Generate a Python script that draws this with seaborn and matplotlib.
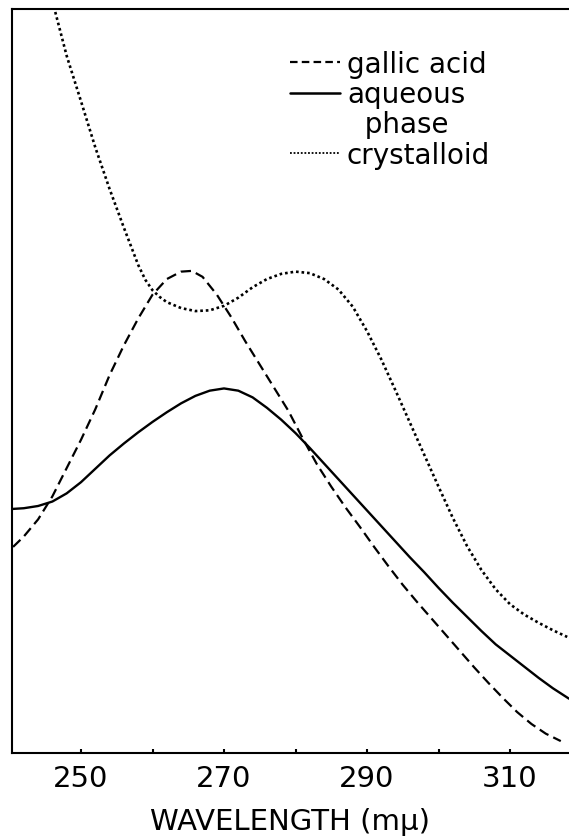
import matplotlib
matplotlib.use("Agg")
import matplotlib.pyplot as plt
import seaborn as sns
from matplotlib.lines import Line2D

# Absorption spectra (relative absorbance, axis 0..1)
gallic_wl = [240.5, 242, 244, 246, 248, 250, 252, 254, 256, 258, 260, 262, 264, 265.5,
             267, 269, 271, 273, 275, 277, 279, 281, 283, 285, 287, 289, 291, 293, 295,
             297, 299, 301, 303, 305, 307, 309, 311, 313, 315, 317.1]
gallic_abs = [0.277, 0.291, 0.314, 0.345, 0.383, 0.421, 0.462, 0.508, 0.548, 0.584,
              0.616, 0.637, 0.647, 0.648, 0.640, 0.616, 0.586, 0.553, 0.522, 0.491,
              0.460, 0.423, 0.388, 0.358, 0.330, 0.304, 0.277, 0.251, 0.226, 0.203,
              0.181, 0.159, 0.137, 0.115, 0.094, 0.074, 0.055, 0.039, 0.026, 0.016]

aqueous_wl = [240.35, 242, 244, 246, 248, 250, 252, 254, 256, 258, 260, 262, 264, 266,
              268, 270, 272, 274, 276, 278, 280, 282, 284, 286, 288, 290, 292, 294, 296,
              298, 300, 302, 304, 306, 308, 310, 312, 314, 316, 318.25]
aqueous_abs = [0.328, 0.329, 0.332, 0.338, 0.349, 0.364, 0.382, 0.400, 0.416, 0.431,
               0.445, 0.458, 0.470, 0.480, 0.487, 0.490, 0.487, 0.478, 0.464, 0.448,
               0.430, 0.410, 0.389, 0.368, 0.347, 0.326, 0.305, 0.284, 0.263, 0.243,
               0.222, 0.202, 0.183, 0.164, 0.146, 0.131, 0.116, 0.101, 0.087, 0.073]

crystal_wl = [246.4, 248, 250, 252, 254, 256, 258, 259, 260, 261, 262, 264, 266, 268,
              270, 272, 274, 276, 278, 280, 282, 284, 286, 288, 290, 292, 294, 296, 298,
              300, 302, 304, 306, 308, 310, 312, 314, 316, 318]
crystal_abs = [0.996, 0.937, 0.876, 0.814, 0.758, 0.706, 0.656, 0.636, 0.622, 0.613,
               0.606, 0.598, 0.594, 0.595, 0.601, 0.612, 0.626, 0.637, 0.644, 0.647,
               0.645, 0.637, 0.623, 0.600, 0.567, 0.529, 0.487, 0.444, 0.401, 0.358,
               0.316, 0.278, 0.246, 0.220, 0.200, 0.186, 0.175, 0.165, 0.156]

xticks = [250, 260, 270, 280, 290, 300, 310]
xtick_labels = ["250", "", "270", "", "290", "", "310"]

sns.set_style("white")
plt.rcParams["font.family"] = ["DejaVu Sans"]
plt.rcParams["text.color"] = "black"
plt.rcParams["xtick.color"] = "black"
plt.rcParams["axes.labelcolor"] = "black"

fig = plt.figure(figsize=(5.69, 8.37), dpi=100)
ax = fig.add_axes([12 / 569, 83 / 837, 557 / 569, 744 / 837])

sns.lineplot(x=gallic_wl, y=gallic_abs, ax=ax, color="black", lw=1.6,
             linestyle=(0, (4.6, 2.4)), sort=False)
sns.lineplot(x=aqueous_wl, y=aqueous_abs, ax=ax, color="black", lw=1.7, sort=False)
sns.lineplot(x=crystal_wl, y=crystal_abs, ax=ax, color="black", lw=1.9,
             linestyle=(0, (1.0, 1.1)), sort=False)

ax.set_xlim(240.35, 318.25)
ax.set_ylim(0, 1)
ax.set_xticks(xticks)
ax.set_xticklabels(xtick_labels, fontsize=21)
ax.set_yticks([])
ax.tick_params(axis="x", direction="in", length=3, width=1.5, pad=8, bottom=True)
ax.set_xlabel("WAVELENGTH (mμ)", fontsize=21, labelpad=11)
ax.set_ylabel("")

for side in ["left", "top", "bottom"]:
    ax.spines[side].set_linewidth(1.5)
    ax.spines[side].set_color("black")
ax.spines["right"].set_visible(False)

handles = [
    Line2D([], [], color="black", lw=1.6, linestyle=(0, (3.4, 1.9))),
    Line2D([], [], color="black", lw=1.8),
    Line2D([], [], color="none"),
    Line2D([], [], color="black", lw=1.3, linestyle=(0, (1.0, 1.0))),
]
labels = ["gallic acid", "aqueous", "  phase", "crystalloid"]
leg = ax.legend(handles, labels, loc="upper left",
                bbox_to_anchor=(290 / 569, 1 - 51 / 837), bbox_transform=fig.transFigure,
                frameon=False, fontsize=20, handlelength=1.8, handletextpad=0.25,
                labelspacing=0.08, borderpad=0, borderaxespad=0)

fig.savefig("out.png", dpi=100)
